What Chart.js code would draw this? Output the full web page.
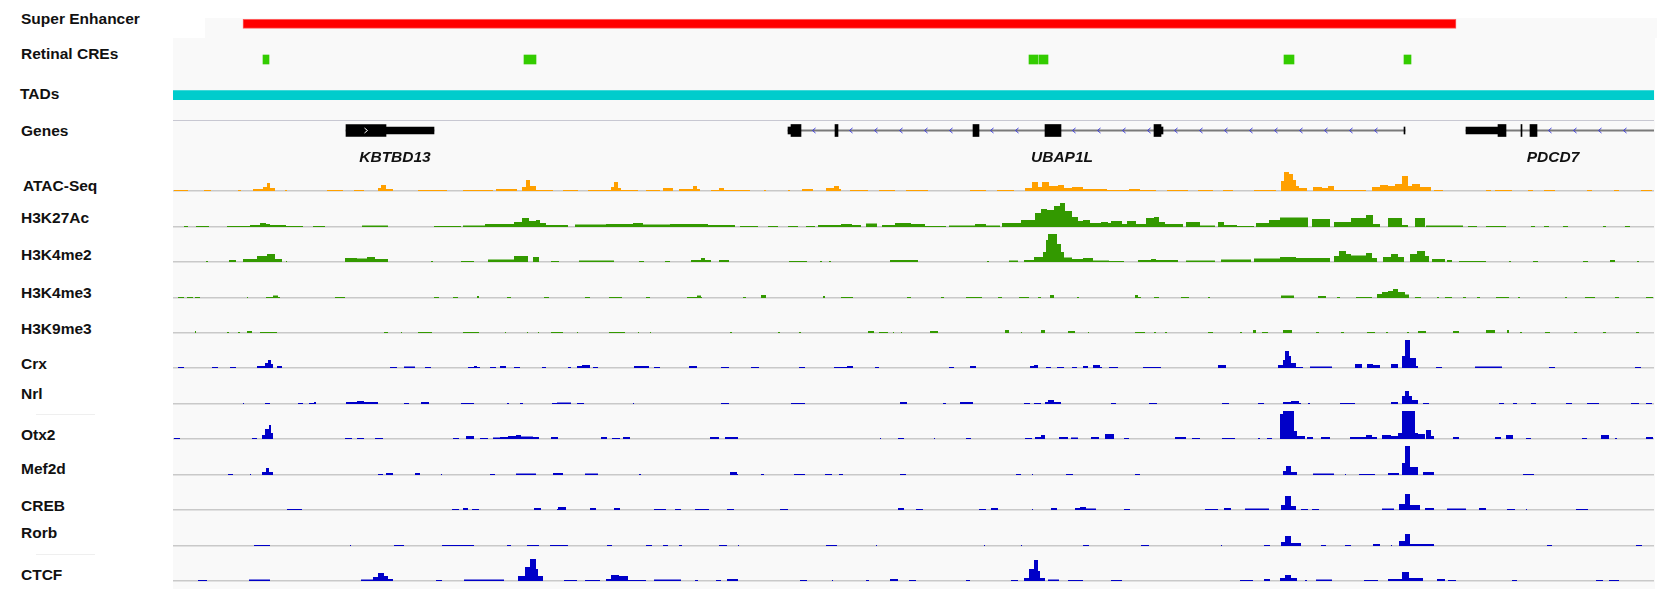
<!DOCTYPE html>
<html lang="en">
<head>
<meta charset="utf-8">
<title>Super enhancer locus</title>
<script src="https://cdn.jsdelivr.net/npm/chart.js@4.4.1/dist/chart.umd.min.js"></script>
<style>
  html, body { margin: 0; padding: 0; background: #ffffff; }
  #view { position: relative; width: 1663px; height: 589px; overflow: hidden;
          font-family: "Liberation Sans", Arial, Helvetica, sans-serif; }
  .panel { position: absolute; background: #f9f9f9; }
  .rule { position: absolute; height: 1px; }
  .track-label { position: absolute; font-size: 15.5px; font-weight: bold; color: #111;
                 line-height: 1; transform: translateY(-50%); white-space: nowrap; }
  #view canvas { position: absolute; left: 173px; }
</style>
</head>
<body>
<div id="view">
  <div class="panel" style="left:205px;top:18px;width:1452px;height:20px"></div>
  <div class="panel" style="left:173px;top:38px;width:1482px;height:551px"></div>
  <div class="rule" style="left:173px;top:120px;width:1481px;background:#c8c8d2"></div>
  <div class="rule" style="left:36px;top:414px;width:59px;background:#efefef"></div>
  <div class="rule" style="left:36px;top:554px;width:59px;background:#efefef"></div>
</div>
<script>
/* ===================================
   Super enhancer locus - track view
   every track is its own Chart.js chart
   =================================== */

// window shown, kb from the left edge of the locus
const VIEW_START = 0;
const VIEW_END = 148.1;

const trackLabels = ['Super Enhancer', 'Retinal CREs', 'TADs', 'Genes', 'ATAC-Seq', 'H3K27Ac',
    'H3K4me2', 'H3K4me3', 'H3K9me3', 'Crx', 'Nrl', 'Otx2', 'Mef2d', 'CREB', 'Rorb', 'CTCF'];

// interval tracks [start, end]
const superEnhancer = [[7.0, 128.3]];
const retinalCREs = [[9.0, 9.6], [35.1, 36.3], [85.6, 86.5], [86.6, 87.5], [111.1, 112.1], [123.1, 123.8]];
const tads = [[0, 148.1]];

// gene models
const geneNames = ['KBTBD13', 'UBAP1L', 'PDCD7'];
const geneStrands = ['+', '-', '-'];
const geneSpans = [[17.3, 26.1], [61.5, 123.2], [129.3, 148.1]];
const geneLabelPos = [22.2, 88.9, 138.0];
const geneCds = [
    [[17.3, 21.3]],
    [[61.8, 62.8], [66.2, 66.5], [80.0, 80.6], [87.2, 88.8], [98.1, 98.8]],
    [[132.5, 133.3], [134.8, 134.9], [135.7, 136.4]]
];
const geneUtr = [
    [[21.3, 26.1]],
    [[61.5, 61.8], [98.8, 99.0], [123.1, 123.2]],
    [[129.3, 132.5]]
];

// coverage tracks [start, end, signal]
const atacSeq = [
    [0.1,1.5,1],[3.1,3.8,1],[6.5,6.8,1],[8.0,9.0,2],[9.0,9.4,4],[9.4,9.7,8],[9.7,10.2,3],[11.2,11.4,1],
    [15.4,17.0,1],[18.1,19.1,1],[20.5,20.8,3],[20.8,21.3,6],[21.3,22.0,2],[24.5,27.4,1],[29.0,32.0,1],
    [32.3,34.4,2],[34.9,35.3,4],[35.3,35.7,11],[35.7,36.3,5],[36.3,38.0,1],[39.0,40.5,1],[41.5,43.8,1],
    [43.8,44.1,4],[44.1,44.5,9],[44.5,44.8,3],[44.8,46.5,1],[47.3,48.7,1],[49.0,50.0,3],[50.6,52.0,2],
    [52.0,52.4,5],[52.4,52.7,2],[53.8,54.6,1],[54.6,55.1,3],[55.1,57.7,1],[59.1,59.3,1],[61.5,61.7,1],
    [62.9,64.0,2],[65.3,66.1,3],[66.1,66.6,5],[66.6,66.8,2],[67.7,69.5,1],[70.6,72.2,1],[73.3,75.5,1],
    [79.7,81.3,1],[82.4,84.1,1],[85.2,85.9,3],[85.9,86.5,9],[86.5,86.9,4],[86.9,87.6,9],[87.6,88.5,5],
    [88.5,89.1,6],[89.1,89.9,3],[89.9,91.0,4],[91.0,93.4,2],[93.4,95.6,1],[95.6,96.7,2],[96.7,98.3,1],
    [99.4,101.5,1],[102.5,104.0,1],[105.0,106.0,1],[108.1,110.3,1],[110.8,111.1,10],[111.1,111.6,19],
    [111.6,112.0,17],[112.0,112.3,11],[112.3,112.6,5],[112.6,113.4,3],[114.0,114.9,4],[114.9,115.5,3],
    [115.5,116.1,5],[116.1,119.3,1],[119.9,120.7,4],[120.7,121.5,6],[121.5,122.2,5],[122.2,122.9,7],
    [122.9,123.5,15],[123.5,123.9,5],[123.9,124.7,7],[124.7,125.8,4],[126.1,127.0,1],[131.3,131.8,1],
    [132.2,133.9,1],[135.5,136.0,1],[137.1,138.2,1],[141.4,141.9,1],[144.1,144.6,1],[146.8,147.9,1]
];
const h3k27ac = [
    [1.1,1.5,1],[2.3,3.6,1],[5.4,7.7,1],[7.7,8.7,2],[8.7,9.3,4],[9.3,9.7,3],[9.7,11.3,2],[11.3,13.0,1],
    [14.0,15.2,1],[18.9,21.5,1.5],[26.1,28.8,1],[29.0,31.2,1.5],[31.2,34.1,3],[34.1,34.9,5],[34.9,35.6,9],
    [35.6,36.3,6],[36.3,36.7,7],[36.7,37.3,4],[37.3,39.5,2],[40.2,43.3,2.5],[43.3,46.0,3],[46.0,47.0,4],
    [47.0,49.7,2.5],[49.7,53.5,3],[53.5,56.2,2],[56.7,58.5,1],[59.5,60.5,1],[61.5,62.5,1],[63.3,64.2,1],
    [64.5,66.8,2],[66.8,67.9,3],[67.9,68.8,2],[69.3,70.4,3.5],[70.9,72.2,2],[72.2,73.8,4],[73.8,75.2,3],
    [75.2,77.3,1],[77.6,80.2,1.5],[80.2,81.3,3],[81.3,82.7,1.5],[82.9,84.8,4],[84.8,86.2,7],[86.2,86.8,14],
    [86.8,87.4,18],[87.4,88.1,17],[88.1,88.7,21],[88.7,89.2,24],[89.2,89.9,16],[89.9,90.5,10],[90.5,91.0,6],
    [91.0,91.7,7],[91.7,92.8,4],[92.8,93.5,5],[93.5,93.8,4],[93.8,94.9,6],[94.9,95.4,3],[95.4,96.3,6],
    [96.3,97.3,3],[97.3,98.1,9],[98.1,98.6,10],[98.6,99.2,5],[99.2,101.0,3],[101.3,102.7,5],[102.7,104.2,1.5],
    [104.5,105.1,5],[105.1,106.4,2],[106.4,108.1,1],[108.3,109.6,4],[109.6,110.7,7],[110.7,113.5,9.5],
    [113.9,115.7,8],[116.1,117.8,5],[117.8,119.3,9],[119.3,120.0,12],[120.0,120.7,3],[121.5,122.9,9],
    [122.9,123.5,2],[124.2,125.2,9],[125.3,129.0,1.5],[129.5,130.4,1],[131.3,133.3,1],[135.8,136.2,1],
    [137.1,137.6,1],[139.0,139.5,1],[143.0,143.3,1],[145.2,145.7,1]
];
const h3k4me2 = [
    [3.3,3.5,1],[5.6,6.3,2],[7.0,8.4,3],[8.4,9.4,6],[9.4,10.2,8],[10.2,10.9,3],[11.3,11.4,1],[17.2,18.4,4],
    [18.4,19.4,3.5],[19.4,20.2,5],[20.2,21.5,3],[25.8,26.0,1],[28.8,30.1,1],[31.5,34.1,2.5],[34.1,35.5,6],
    [36.0,36.6,5],[37.8,38.6,1],[40.6,44.1,1.5],[46.6,47.1,1],[49.2,49.7,1],[51.8,52.8,2],[52.8,53.2,4],
    [53.2,53.8,2],[54.6,55.6,2],[61.6,63.4,1],[64.7,64.9,1],[65.6,65.8,1],[71.7,74.5,2],[81.4,81.6,1],
    [83.6,84.5,1.5],[85.1,86.1,2],[86.1,87.0,5],[87.0,87.3,10],[87.3,87.5,22],[87.5,88.4,28],[88.4,88.8,18],
    [88.8,89.1,10],[89.1,89.9,4.5],[89.9,91.0,3],[91.0,92.0,4],[92.0,93.6,1.5],[93.6,95.1,1],[96.5,97.8,2],
    [97.8,98.3,3],[98.3,100.5,2],[101.3,104.2,1.5],[104.8,107.8,2.5],[108.1,110.7,3.5],[110.7,112.3,5],
    [112.3,115.7,4],[116.1,116.6,6],[116.6,117.3,11],[117.3,117.8,8],[117.8,119.3,6.5],[119.3,119.9,9],
    [119.9,120.4,4],[121.0,121.8,5],[121.8,122.5,8],[122.5,123.1,5],[123.7,124.4,8],[124.4,125.2,11],
    [125.2,125.6,6],[125.9,127.2,3],[127.4,127.9,2],[128.6,131.3,1],[133.6,133.8,1],[136.0,136.5,1],
    [141.0,141.5,1],[143.7,144.2,2],[146.4,146.6,1]
];
const h3k4me3 = [
    [0.5,1.1,1],[1.4,2.0,1],[2.2,2.7,1],[7.4,7.5,1],[9.3,10.0,1],[10.0,10.5,2.5],[10.5,10.7,1],[16.2,17.2,1],
    [26.1,26.6,1],[28.0,28.5,1],[30.4,30.6,2],[33.4,33.8,1],[37.1,37.6,1],[41.2,41.7,1],[43.6,44.9,1],
    [47.3,47.7,1],[51.4,52.4,1],[52.4,52.8,2.5],[52.8,52.9,1],[57.0,57.3,1],[58.8,59.3,3],[65.0,65.2,2],
    [66.8,68.0,1],[73.4,73.8,1],[76.8,77.1,1],[79.3,80.9,1],[82.5,82.9,1],[84.6,85.6,1],[86.5,86.8,1],
    [87.7,88.1,3],[90.4,90.6,1],[96.2,96.5,3],[96.5,96.8,1],[98.1,98.6,1],[100.8,101.6,1],[103.5,103.7,1],
    [110.8,112.1,2.5],[114.5,115.3,2],[116.4,116.7,1],[118.3,119.9,1],[120.4,120.9,4],[120.9,121.5,6],
    [121.5,122.0,7],[122.0,122.5,9],[122.5,123.2,6],[123.2,123.6,3.5],[124.2,124.8,1],[126.4,126.6,1],
    [127.2,127.9,1],[129.0,129.3,1],[130.4,130.7,1],[132.3,133.6,1],[134.5,134.7,1],[139.2,139.4,1],
    [141.2,142.2,1],[144.2,144.6,1],[147.3,148.0,1]
];
const h3k9me3 = [
    [2.2,2.3,2],[5.4,5.6,1],[6.5,6.7,1],[7.4,7.9,2],[8.7,10.4,1],[11.6,11.7,1],[21.1,21.5,1],[22.8,22.9,1],
    [24.5,25.9,1],[29.0,30.6,1],[33.2,33.3,1],[35.4,35.5,1],[36.5,36.6,1],[37.8,39.0,1],[40.4,40.5,1],
    [43.6,45.2,1],[46.5,46.6,1],[47.7,47.8,1],[55.7,55.9,1],[60.5,60.7,1],[62.6,62.8,1],[69.5,70.1,2],
    [70.6,71.5,1],[72.0,72.1,1],[72.8,72.9,1],[75.0,75.1,1],[75.7,76.5,2],[83.2,83.6,3],[84.8,84.9,1],
    [86.8,87.2,3],[89.5,90.2,2],[91.5,91.6,1],[96.2,97.2,1],[98.1,98.3,1],[99.2,99.4,1],[103.5,104.0,1],
    [106.7,106.9,1],[108.0,108.3,3],[108.9,109.5,1],[111.0,111.9,3],[114.3,114.6,1],[116.8,117.1,1],
    [119.4,120.2,1],[121.3,121.5,1],[123.4,123.6,1],[124.5,125.3,2],[128.0,128.6,2],[131.3,132.2,3],
    [133.4,133.6,3],[134.7,134.9,1],[137.2,137.7,1],[140.1,140.4,1],[143.0,143.3,1],[146.3,146.6,1]
];
const crx = [
    [0.5,1.1,1],[3.9,4.5,1],[5.7,6.3,1],[8.4,9.2,2],[9.2,9.5,5],[9.5,9.8,8],[9.8,10.0,4],[10.4,10.9,2],
    [21.7,22.4,1],[23.1,24.2,1.5],[25.2,25.8,1],[29.5,30.1,1],[30.1,30.4,2],[30.4,30.7,1],[31.7,32.3,1],
    [32.7,33.3,2],[34.1,34.7,1],[36.9,37.3,1],[39.5,39.8,1],[40.4,40.9,2],[40.9,41.7,3],[42.0,42.5,1],
    [46.1,47.6,2],[48.1,48.7,1],[51.6,52.4,2],[54.8,55.6,1],[57.8,58.6,1],[62.6,63.2,1],[66.1,67.4,1],
    [67.4,68.0,2],[70.2,70.6,1],[77.6,78.1,1],[79.7,80.3,2],[85.7,86.1,2],[86.1,86.5,3],[87.3,87.8,1],
    [88.4,89.1,1],[89.9,90.4,1],[91.0,91.5,2],[92.0,92.7,3],[92.7,92.9,1],[93.6,94.5,1],[97.0,98.8,1],
    [104.5,105.3,3],[110.5,111.0,3],[111.0,111.2,8],[111.2,111.6,17],[111.6,111.8,12],[111.8,112.3,5],
    [112.3,113.0,1],[113.7,115.9,1.5],[118.2,118.9,4],[119.4,120.0,4],[120.0,120.7,3],[121.8,122.5,4],
    [122.9,123.2,12],[123.2,123.7,28],[123.7,124.3,10],[124.3,124.5,2],[126.3,126.9,1],[130.2,132.9,1.5],
    [137.6,138.2,1],[146.2,146.8,1]
];
const nrl = [
    [7.0,7.1,1],[9.2,9.7,1],[12.5,13.0,1],[13.6,14.1,1],[14.1,14.3,2],[17.3,18.4,2],[18.4,19.1,3],[19.1,20.5,2],
    [23.1,23.6,1],[24.8,25.6,2],[28.8,30.1,1],[33.4,33.6,1],[34.7,35.0,1],[37.9,38.4,1],[38.4,39.8,1.5],
    [40.4,41.1,1],[46.0,46.1,1],[54.8,55.6,1],[61.8,63.2,1],[72.7,73.4,2],[77.0,77.3,1],[78.7,80.0,2],
    [85.1,85.7,1],[86.1,86.8,1],[87.2,87.5,2],[87.5,88.1,4],[88.1,88.8,2],[93.8,94.3,1],[97.6,98.4,1],
    [104.9,105.6,1],[108.5,109.1,1],[111.0,111.8,2],[111.8,112.6,3],[112.6,112.8,1],[113.5,113.7,1],
    [116.7,118.2,1],[121.8,122.5,2],[122.9,123.2,8],[123.2,123.6,13],[123.6,123.9,8],[123.9,124.5,4],
    [125.0,125.6,1],[132.6,133.1,1],[134.0,134.4,1],[135.8,136.3,1],[139.3,139.9,1],[141.4,142.6,1],
    [145.8,146.6,1],[147.3,147.9,1]
];
const otx2 = [
    [0.1,0.7,1],[7.9,8.4,1],[8.9,9.2,4],[9.2,9.6,10],[9.6,9.8,14],[9.8,10.0,6],[17.2,17.9,1],[18.4,19.1,1],
    [20.2,21.0,1],[28.0,28.6,1],[29.3,30.1,3],[30.7,31.5,1],[32.0,32.7,1.5],[32.7,33.5,2],[33.5,34.3,3],
    [34.3,34.8,4],[34.8,36.0,2.5],[36.0,36.6,2],[37.8,38.5,2],[42.8,43.4,2],[43.9,44.7,1],[45.0,45.7,2],
    [53.7,54.6,2],[55.2,56.5,2],[70.7,70.8,1],[72.5,73.1,1],[76.1,76.2,1],[79.3,79.8,1],[85.2,85.9,1],
    [86.2,86.8,2],[86.8,87.2,4],[88.6,89.5,2],[89.8,90.5,1.5],[91.8,92.6,2],[93.2,94.1,5],[95.1,95.6,1],
    [100.2,101.3,2],[101.9,102.7,1],[104.9,106.2,1],[108.5,108.7,1],[109.4,109.9,1],[110.7,111.0,25],
    [111.0,112.1,28],[112.1,112.4,8],[112.4,113.2,3],[113.4,114.0,2],[114.8,115.7,2],[117.7,119.3,2],
    [119.3,119.9,4],[119.9,120.4,2],[120.9,121.8,4],[121.8,122.5,3],[122.5,122.9,6],[122.9,124.2,28],
    [124.2,124.5,6],[124.5,125.2,5],[125.3,125.8,9],[125.8,126.1,3],[128.0,128.6,2],[132.2,132.8,2],
    [133.3,134.0,4],[135.3,135.8,1],[140.9,141.4,1],[142.8,143.6,4],[144.2,144.4,1],[147.3,148.0,2]
];
const mef2d = [
    [5.5,6.0,1],[7.7,7.8,1],[8.9,9.3,3],[9.3,9.6,7],[9.6,10.0,3],[20.5,21.0,1],[21.3,22.0,2],[24.2,24.7,2],
    [26.8,26.9,1],[31.7,32.2,1],[34.3,36.3,1.5],[38.0,39.0,2],[41.2,42.5,1.5],[46.6,46.8,1],[50.2,50.3,1],
    [55.7,56.4,3],[56.4,56.5,1],[58.8,59.1,1],[62.1,63.2,1],[65.2,65.9,1],[66.6,67.0,1],[72.7,73.3,1],
    [84.3,84.8,1],[85.9,86.0,1],[89.3,90.0,1],[96.2,96.7,1],[111.0,111.3,4],[111.3,111.8,9],[111.8,112.4,3],
    [114.0,116.1,1.5],[117.2,117.3,1],[118.6,120.2,1],[121.5,122.6,2],[122.9,123.2,12],[123.2,123.7,29],
    [123.7,124.5,8],[125.0,126.1,3],[135.0,136.1,1]
];
const creb = [
    [11.4,12.9,1],[27.9,28.6,1],[29.0,29.5,2],[29.9,30.6,1],[36.1,36.8,2],[38.4,38.5,1],[38.5,39.3,3],
    [41.7,42.3,2],[44.1,44.7,2],[48.1,49.3,1],[50.2,50.8,1],[52.2,53.6,1],[55.4,56.1,1],[60.7,61.5,1],
    [72.5,73.1,2],[74.3,75.0,1],[80.6,81.3,1],[81.8,82.5,2],[85.9,86.0,1],[87.8,88.4,2],[90.2,90.7,2],
    [90.7,91.3,3],[91.3,92.3,1.5],[95.1,95.7,1],[103.2,104.5,1],[105.1,105.8,2],[107.2,109.6,1.5],
    [110.8,111.2,5],[111.2,111.8,14],[111.8,112.3,4],[112.8,113.5,1],[113.9,114.6,1],[120.9,122.1,1.5],
    [122.6,123.2,6],[123.2,123.7,16],[123.7,124.7,5],[125.2,126.1,2],[127.4,129.3,1.5],[130.6,131.3,2],
    [133.4,134.2,1],[135.3,135.4,1],[140.3,141.5,1]
];
const rorb = [
    [8.1,9.7,1],[17.7,17.8,1],[22.1,23.1,1],[26.9,30.1,1],[33.4,33.8,1],[35.4,36.6,1],[37.7,39.5,1],
    [43.4,43.9,1],[47.3,47.9,1],[49.0,49.5,1],[50.6,50.9,1],[54.6,55.4,1],[56.5,56.6,1],[65.3,66.4,1],
    [70.3,70.4,1],[81.1,81.2,1],[84.8,84.9,1],[91.0,91.6,1],[96.8,97.6,1],[104.8,104.9,1],[109.1,109.7,1],
    [110.8,111.2,4],[111.2,111.8,10],[111.8,112.8,3],[114.8,115.3,1],[117.2,117.8,1],[120.0,120.7,2],
    [121.8,121.9,1],[122.6,123.2,5],[123.2,123.7,12],[123.7,126.1,2],[137.4,137.9,1],[146.3,146.9,1]
];
const ctcf = [
    [2.5,3.4,1],[7.6,9.7,1.5],[18.8,20.0,1.5],[20.0,20.5,4],[20.5,21.1,8],[21.1,21.5,5],[21.5,22.0,2],
    [26.3,26.9,1],[29.1,33.1,1.5],[34.5,35.2,5],[35.2,35.7,14],[35.7,36.3,22],[36.3,36.5,12],[36.5,37.0,5],
    [39.1,40.4,1],[41.2,42.7,1],[43.3,43.8,2],[43.8,44.6,6],[44.6,45.5,5],[45.5,47.3,1],[48.1,50.8,1.5],
    [52.2,52.5,1],[54.3,54.8,1],[55.4,56.5,2],[62.7,63.4,1],[65.9,66.0,1],[69.3,69.6,1],[71.7,72.5,2],
    [73.6,74.3,1],[79.3,79.7,1],[83.8,84.5,1],[85.1,85.6,3],[85.6,86.1,12],[86.1,86.5,21],[86.5,86.7,10],
    [86.7,87.2,3],[87.5,88.6,1.5],[89.5,91.0,1],[93.8,94.9,1],[106.7,108.0,1],[109.1,109.7,2],[110.7,111.2,3],
    [111.2,111.8,6],[111.8,112.4,3],[113.2,113.4,1],[114.3,115.9,1.5],[119.1,120.5,1],[121.5,122.9,2],
    [122.9,123.6,9],[123.6,125.0,3],[126.4,127.2,2],[127.5,128.3,1],[133.9,134.4,1],[142.3,143.0,1],
    [143.6,144.6,1]
];

// turn [start, end, value] blocks into a step outline the line chart can fill
function toSteps(blocks) {
    const pts = [{ x: VIEW_START, y: 0 }];
    blocks.slice().sort((a, b) => a[0] - b[0]).forEach(([s, e, v]) => {
        pts.push({ x: s, y: 0 }, { x: s, y: v }, { x: e, y: v }, { x: e, y: 0 });
    });
    pts.push({ x: VIEW_END, y: 0 });
    return pts;
}

function drawChevron(ctx, px, y, dir) {
    ctx.beginPath();
    ctx.moveTo(px - dir * 1.5, y - 2.5);
    ctx.lineTo(px + dir * 1.5, y);
    ctx.lineTo(px - dir * 1.5, y + 2.5);
    ctx.stroke();
}

// strand arrows and gene names under the gene track
const geneDecorations = {
    id: 'geneDecorations',
    afterDatasetsDraw(chart) {
        const { ctx, chartArea } = chart;
        const xs = chart.scales.x;
        const mid = (chartArea.top + chartArea.bottom) / 2;
        ctx.save();
        ctx.lineWidth = 1;
        geneNames.forEach((name, g) => {
            const dir = geneStrands[g] === '+' ? 1 : -1;
            const exons = geneCds[g].concat(geneUtr[g])
                .map(([a, b]) => [xs.getPixelForValue(a), xs.getPixelForValue(b)])
                .sort((p, q) => p[0] - q[0]);
            const spanEnd = Math.min(xs.getPixelForValue(geneSpans[g][1]), chartArea.right);

            ctx.strokeStyle = '#3c3cdc';
            exons.forEach(([, right], i) => {
                const next = i + 1 < exons.length ? exons[i + 1][0] : spanEnd;
                for (let px = right + 13; px < next - 4; px += 25) drawChevron(ctx, px, mid, dir);
            });

            ctx.strokeStyle = '#ffffff';
            geneCds[g].forEach(([a, b]) => {
                const x0 = xs.getPixelForValue(a), x1 = xs.getPixelForValue(b);
                if (x1 - x0 > 30) drawChevron(ctx, (x0 + x1) / 2, mid, dir);
            });

            ctx.fillStyle = '#111111';
            ctx.font = 'italic bold 15.5px "Liberation Sans", Arial, sans-serif';
            ctx.textAlign = 'center';
            ctx.textBaseline = 'middle';
            ctx.fillText(name, xs.getPixelForValue(geneLabelPos[g]), chartArea.bottom + 10);
        });
        ctx.restore();
    }
};

const TrackView = {
    view: document.getElementById('view'),
    width: 1481,
    charts: [],

    colors: {
        superEnhancer: '#ff0000',
        cre: '#33cc00',
        tad: '#00cccc',
        atac: '#ffa000',
        histone: '#339900',
        factor: '#0000c8',
        baseline: '#c9c9c9'
    },

    // label text, left, vertical centre
    labelPos: [
        [21, 18.5], [21, 54], [20, 93.5], [21, 131], [23, 186], [21, 217.5], [21, 254.5], [21, 292.5],
        [21, 328.5], [21, 364], [21, 394], [21, 434.5], [21, 469], [21, 506], [21, 532.5], [21, 575]
    ],

    init() {
        this.drawLabels();
        this.initAnnotations();
        this.initGenes();
        this.initSignals();
    },

    drawLabels() {
        trackLabels.forEach((text, i) => {
            const el = document.createElement('div');
            el.className = 'track-label';
            el.textContent = text;
            el.style.left = this.labelPos[i][0] + 'px';
            el.style.top = this.labelPos[i][1] + 'px';
            this.view.appendChild(el);
        });
    },

    makeCanvas(top, height) {
        const c = document.createElement('canvas');
        c.width = this.width;
        c.height = height;
        c.style.top = top + 'px';
        c.style.width = this.width + 'px';
        c.style.height = height + 'px';
        this.view.appendChild(c);
        return c;
    },

    baseOptions() {
        return {
            responsive: false,
            maintainAspectRatio: false,
            animation: false,
            devicePixelRatio: 1,
            events: [],
            plugins: { legend: { display: false }, tooltip: { enabled: false } }
        };
    },

    initAnnotations() {
        const rows = trackLabels.slice(0, 3);
        const ctx = this.makeCanvas(6, 107);
        const rowData = (list, row) => list.map(r => ({ x: r, y: row }));

        this.charts.push(new Chart(ctx, {
            type: 'bar',
            data: {
                labels: rows,
                datasets: [
                    { data: rowData(superEnhancer, rows[0]), backgroundColor: this.colors.superEnhancer,
                      borderColor: '#ff5a5a', borderWidth: 1, borderSkipped: false, barThickness: 9, grouped: false },
                    { data: rowData(retinalCREs, rows[1]), backgroundColor: this.colors.cre,
                      barThickness: 9, grouped: false },
                    { data: rowData(tads, rows[2]), backgroundColor: this.colors.tad,
                      barThickness: 9, grouped: false }
                ]
            },
            options: {
                ...this.baseOptions(),
                indexAxis: 'y',
                layout: { padding: 0 },
                scales: {
                    x: { type: 'linear', min: VIEW_START, max: VIEW_END, display: false },
                    y: { type: 'category', display: false }
                }
            }
        }));
    },

    initGenes() {
        const ctx = this.makeCanvas(113, 60);
        const row = trackLabels[3];
        const flat = list => list.flat().map(r => ({ x: r, y: row }));

        this.charts.push(new Chart(ctx, {
            type: 'bar',
            data: {
                labels: [row],
                datasets: [
                    { data: flat(geneCds), backgroundColor: '#000000', barThickness: 12, grouped: false },
                    { data: flat(geneUtr), backgroundColor: '#000000', barThickness: 7, grouped: false },
                    { data: geneSpans.map(r => ({ x: r, y: row })), backgroundColor: '#7a7a7a',
                      barThickness: 1.5, grouped: false }
                ]
            },
            options: {
                ...this.baseOptions(),
                indexAxis: 'y',
                layout: { padding: { top: 0, bottom: 25, left: 0, right: 0 } },
                scales: {
                    x: { type: 'linear', min: VIEW_START, max: VIEW_END, display: false },
                    y: { type: 'category', display: false }
                }
            },
            plugins: [geneDecorations]
        }));
    },

    initSignals() {
        const tracks = [
            { data: atacSeq, color: this.colors.atac, base: 191 },
            { data: h3k27ac, color: this.colors.histone, base: 226.5 },
            { data: h3k4me2, color: this.colors.histone, base: 262 },
            { data: h3k4me3, color: this.colors.histone, base: 297.5 },
            { data: h3k9me3, color: this.colors.histone, base: 333 },
            { data: crx, color: this.colors.factor, base: 368 },
            { data: nrl, color: this.colors.factor, base: 404 },
            { data: otx2, color: this.colors.factor, base: 439 },
            { data: mef2d, color: this.colors.factor, base: 475 },
            { data: creb, color: this.colors.factor, base: 510 },
            { data: rorb, color: this.colors.factor, base: 546 },
            { data: ctcf, color: this.colors.factor, base: 581 }
        ];

        tracks.forEach(track => {
            const ctx = this.makeCanvas(Math.round(track.base) - 34, 36);
            this.charts.push(new Chart(ctx, {
                type: 'line',
                data: {
                    datasets: [{
                        data: toSteps(track.data),
                        fill: 'origin',
                        backgroundColor: track.color,
                        borderColor: 'rgba(0, 0, 0, 0)',
                        borderWidth: 0,
                        pointRadius: 0,
                        tension: 0
                    }]
                },
                options: {
                    ...this.baseOptions(),
                    parsing: false,
                    normalized: true,
                    layout: { padding: { top: 1, bottom: 2, left: 0, right: 0 } },
                    scales: {
                        x: {
                            type: 'linear', min: VIEW_START, max: VIEW_END,
                            ticks: { display: false },
                            grid: { display: false, drawTicks: false },
                            border: { display: true, color: this.colors.baseline, width: 1.5 }
                        },
                        y: { min: 0, max: 33, display: false }
                    }
                }
            }));
        });
    }
};

TrackView.init();
</script>
</body>
</html>
